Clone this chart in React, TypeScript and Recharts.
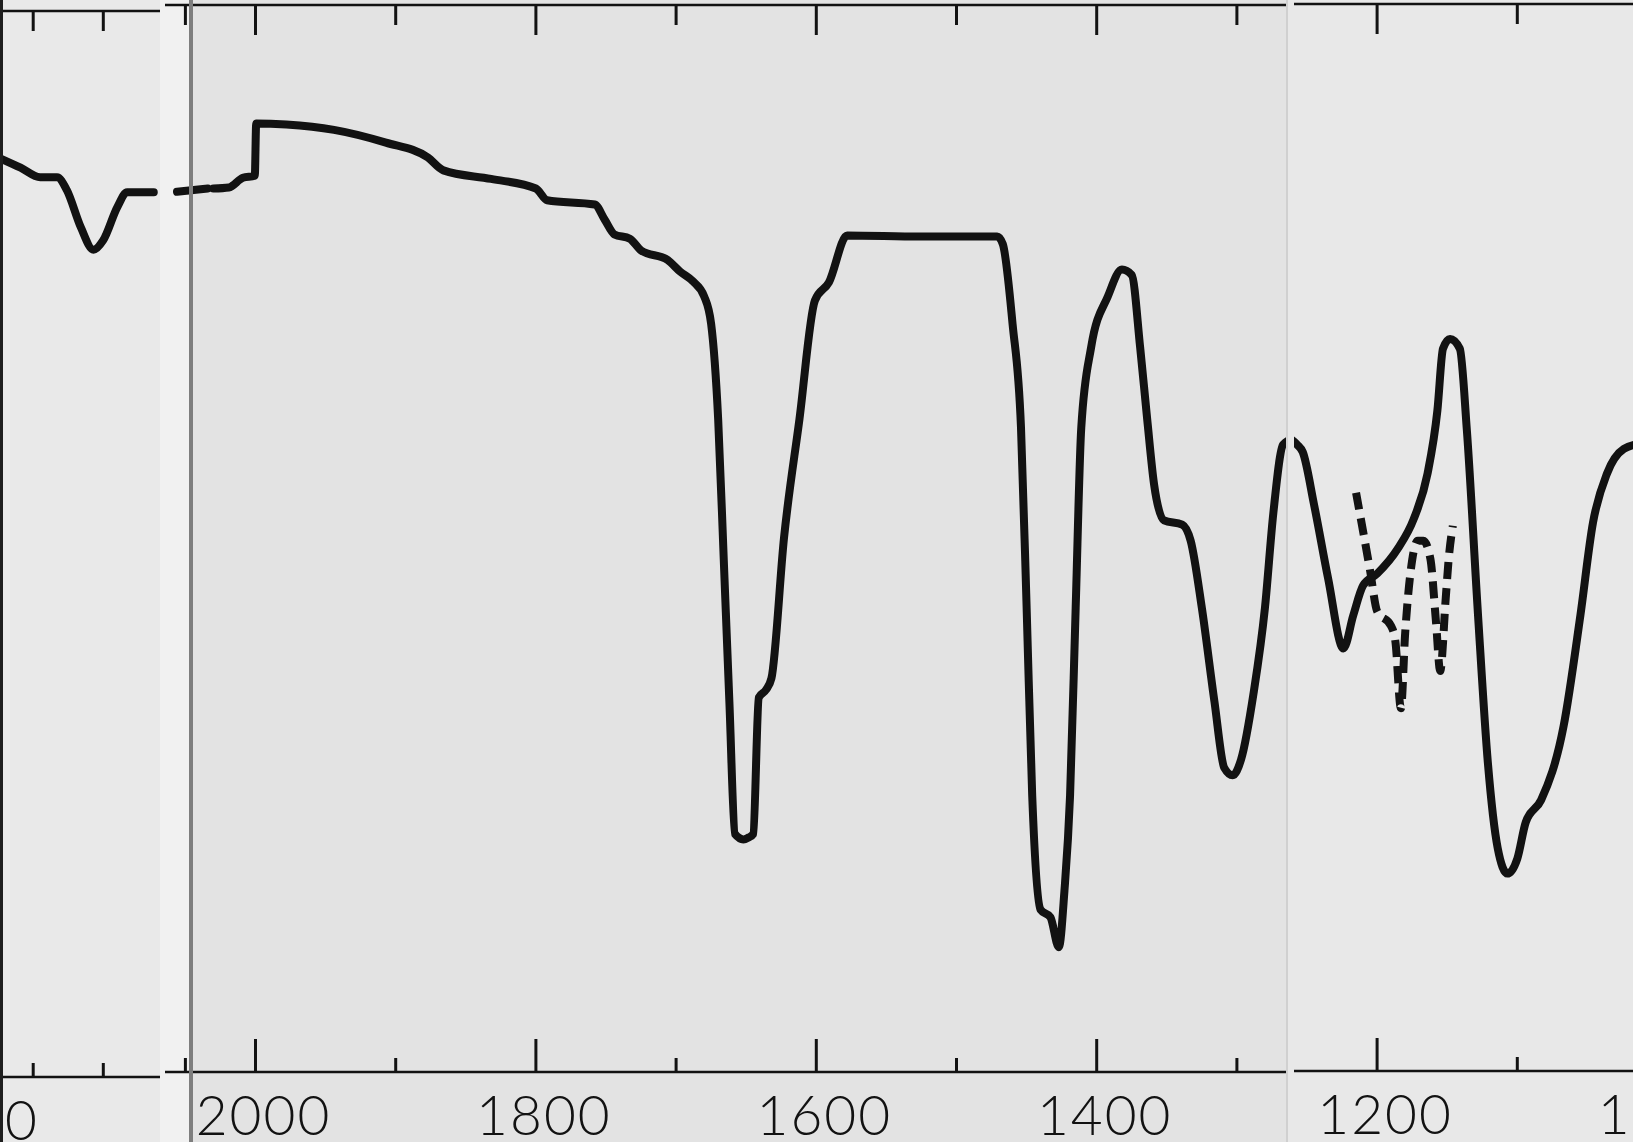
import React from 'react';
import { LineChart, Line, XAxis, YAxis } from 'recharts';

const INK = '#121212';
const FONT = 'Lato, Roboto, "Open Sans", sans-serif';

// main trace, wavenumber (cm-1) and % transmittance
const mainWave = [
  2056, 2034, 2031, 2030, 2019, 2009, 2000.5, 1999.5, 1978, 1944,
  1907, 1877, 1866, 1832, 1800, 1792, 1758, 1751, 1744, 1733,
  1725, 1706, 1697, 1688, 1680, 1675, 1670, 1666, 1662, 1658,
  1652, 1648, 1645, 1641, 1636, 1632, 1623, 1612, 1601, 1591,
  1578, 1526, 1471, 1467, 1460, 1454, 1450, 1446, 1440, 1433,
  1427, 1423, 1419, 1415, 1411, 1404, 1392, 1382, 1375, 1369,
  1364, 1359, 1352, 1339, 1333, 1325, 1316, 1309, 1303, 1297,
  1288, 1280, 1274, 1267, 1262, 1257, 1253, 1245, 1235, 1224,
  1217, 1210, 1200, 1185, 1174, 1164, 1157, 1153, 1148, 1141,
  1136, 1128, 1121, 1114, 1107, 1100, 1094, 1083, 1067, 1055,
  1046, 1036, 1024, 1012,
];
const mainT = [
  82.5, 82.8, null, 82.8, 82.9, 83.8, 84.0, 88.9, 88.8, 88.3,
  87.1, 85.7, 84.5, 83.7, 82.8, 81.7, 81.3, 79.9, 78.5, 78.1,
  77.0, 76.1, 75.0, 74.1, 72.7, 70.1, 61.2, 48.0, 34.7, 22.3,
  21.8, 22.0, 22.3, 35.1, 35.8, 36.9, 50.1, 61.2, 72.3, 74.0,
  78.4, 78.3, 78.3, 77.6, 70.1, 60.4, 43.6, 25.9, 15.2, 14.5,
  11.7, 17.0, 25.9, 43.5, 60.4, 67.9, 72.7, 75.2, 74.7, 67.9,
  61.2, 55.0, 51.7, 51.3, 49.8, 43.5, 34.7, 28.5, 27.8, 29.3,
  35.6, 43.5, 52.4, 58.8, 59.2, 58.7, 58.0, 53.1, 46.2, 39.6,
  42.7, 45.5, 46.6, 49.0, 51.7, 56.0, 61.9, 67.7, 68.6, 67.7,
  60.1, 42.7, 28.9, 20.9, 18.5, 19.9, 23.3, 25.4, 32.3, 42.7,
  51.4, 56.0, 58.3, 58.8,
];

// dashed overlay trace around 1200-1150
const dashWave = [1215, 1205, 1200, 1190, 1187, 1183, 1180, 1176, 1171, 1167, 1162, 1158, 1155, 1151, 1149, 1146];
const dashT = [54.2, 46.9, 43.1, 41.7, 40.3, 34.0, 41.0, 46.9, 49.7, 49.7, 48.0, 42.1, 37.5, 44.4, 47.9, 51.1];

// left paper strip (above 2050)
const leftWave = [2174, 2159, 2145, 2133, 2126, 2116, 2107, 2100, 2090, 2083, 2064];
const leftT = [86.2, 85.3, 84.4, 84.4, 83.2, 79.7, 77.6, 78.5, 81.6, 83.0, 83.0];

const mainTicks = [2050, 2000, 1900, 1800, 1700, 1600, 1500, 1400, 1300, 1200, 1100, 1000];
const leftTicks = [2200, 2150, 2100];

const DOMAIN: [number, number] = [1000, 2250];
const PX_PER_UNIT = 1.402;
const CHART_W = (DOMAIN[1] - DOMAIN[0]) * PX_PER_UNIT;
const H = 1142;

const rows = (w: number[], t: (number | null)[]) => w.map((wave, i) => ({ wave, t: t[i] }));
const mainRows = rows(mainWave, mainT);
const dashRows = rows(dashWave, dashT);
const leftRows = rows(leftWave, leftT);

function TopTick(props: any) {
  const { x, y, payload } = props;
  const len = payload.value % 200 === 0 ? 30 : 20;
  return <line x1={x} x2={x} y1={y} y2={y + len} stroke={INK} strokeWidth={3} />;
}

function BottomTick(props: any) {
  const { x, y, payload } = props;
  const major = payload.value % 200 === 0;
  return (
    <g>
      <line x1={x} x2={x} y1={y} y2={y - (major ? 33 : 14)} stroke={INK} strokeWidth={3} />
      {major && (
        <text
          x={x + 8}
          y={y + 63}
          textAnchor="middle"
          fontFamily={FONT}
          fontWeight={300}
          fontSize={55}
          letterSpacing={2}
          fill={INK}
        >
          {payload.value}
        </text>
      )}
    </g>
  );
}

interface PanelProps {
  clipLeft: number;
  clipWidth: number;
  chartLeft: number;
  top: number;
  bottom: number;
  ticks: number[];
  children: React.ReactNode;
}

function Panel({ clipLeft, clipWidth, chartLeft, top, bottom, ticks, children }: PanelProps) {
  return (
    <div style={{ position: 'absolute', left: clipLeft, top: 0, width: clipWidth, height: H, overflow: 'hidden' }}>
      <div style={{ position: 'absolute', left: chartLeft - clipLeft, top: 0 }}>
        <LineChart width={CHART_W} height={H} margin={{ top: 0, right: 0, bottom: 0, left: 0 }}>
          <XAxis
            xAxisId="bottom"
            type="number"
            dataKey="wave"
            domain={DOMAIN}
            allowDataOverflow
            reversed
            ticks={ticks}
            interval={0}
            height={H - bottom}
            tickSize={0}
            tickMargin={0}
            tickLine={false}
            tick={BottomTick}
            axisLine={{ stroke: INK, strokeWidth: 2.5 }}
          />
          <XAxis
            xAxisId="top"
            orientation="top"
            type="number"
            dataKey="wave"
            domain={DOMAIN}
            allowDataOverflow
            reversed
            ticks={ticks}
            interval={0}
            height={top}
            tickSize={0}
            tickMargin={0}
            tickLine={false}
            tick={TopTick}
            axisLine={{ stroke: INK, strokeWidth: 2.5 }}
          />
          <YAxis hide domain={[0, 100]} />
          {children}
        </LineChart>
      </div>
    </div>
  );
}

const solid = (data: any[]) => (
  <Line
    xAxisId="bottom"
    data={data}
    dataKey="t"
    type="monotone"
    stroke={INK}
    strokeWidth={8}
    strokeLinejoin="round"
    strokeLinecap="round"
    dot={false}
    connectNulls={false}
    isAnimationActive={false}
  />
);

const dashed = (
  <Line
    xAxisId="bottom"
    data={dashRows}
    dataKey="t"
    type="monotone"
    stroke={INK}
    strokeWidth={8}
    strokeDasharray="17 9"
    dot={false}
    isAnimationActive={false}
  />
);

export default function App() {
  const mainLeft = 255 - (DOMAIN[1] - 2000) * PX_PER_UNIT;
  return (
    <div style={{ position: 'absolute', left: 0, top: 0, width: 1633, height: H, overflow: 'hidden', background: '#e3e3e3' }}>
      <div style={{ position: 'absolute', left: 0, top: 0, width: 160, height: H, background: '#e9e9e9' }} />
      <div style={{ position: 'absolute', left: 160, top: 0, width: 29, height: H, background: '#f1f1f1' }} />
      <div style={{ position: 'absolute', left: 1287, top: 0, width: 346, height: H, background: '#e8e8e8' }} />

      <Panel clipLeft={0} clipWidth={160} chartLeft={mainLeft - 12} top={11} bottom={1077} ticks={leftTicks}>
        {solid(leftRows)}
      </Panel>
      <Panel clipLeft={165} clipWidth={1121} chartLeft={mainLeft} top={5} bottom={1072} ticks={mainTicks}>
        {solid(mainRows)}
      </Panel>
      <Panel clipLeft={1294} clipWidth={339} chartLeft={mainLeft} top={4} bottom={1071} ticks={mainTicks}>
        {solid(mainRows)}
        {dashed}
      </Panel>

      <div style={{ position: 'absolute', left: 0, top: 0, width: 3, height: H, background: '#1e1e1e' }} />
      <div style={{ position: 'absolute', left: 189, top: 0, width: 4, height: H, background: '#7e7e7e' }} />
      <div style={{ position: 'absolute', left: 1286, top: 0, width: 2, height: H, background: '#d0d0d0' }} />
    </div>
  );
}
